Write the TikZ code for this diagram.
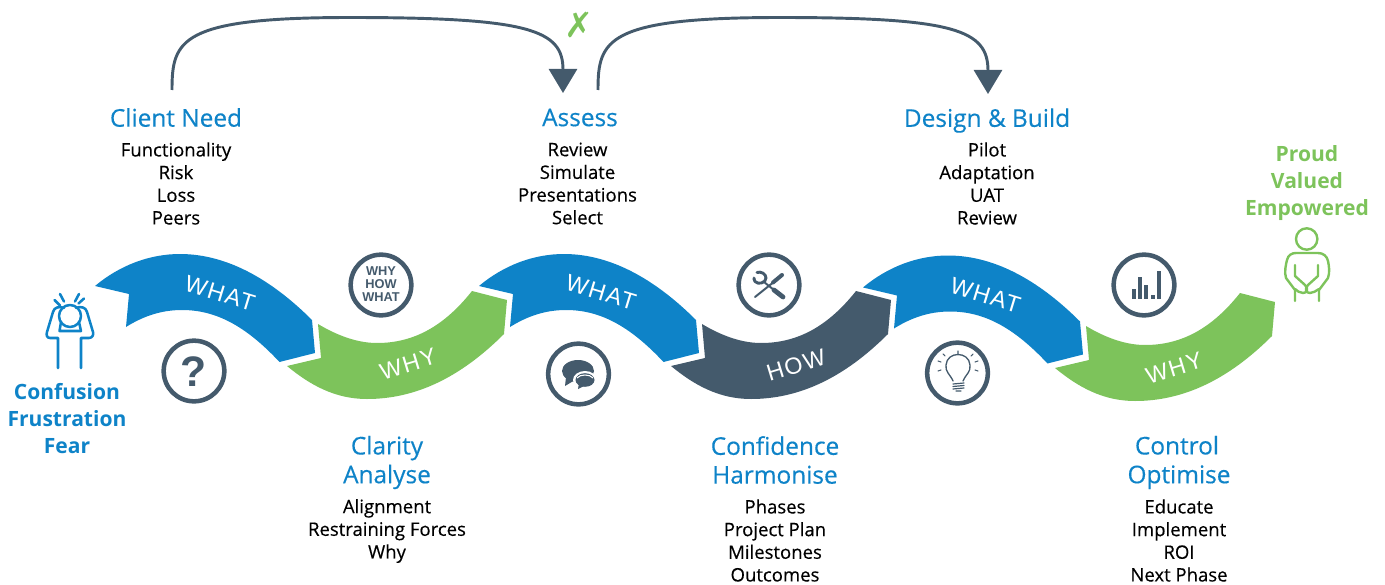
\documentclass[tikz,border=0pt]{standalone}
\usepackage{fontspec}
\usetikzlibrary{arrows.meta}
\setmainfont{Open Sans}
\newfontfamily\medf[FakeBold=0.35]{Open Sans}
\newfontfamily\arialf{Liberation Sans}
\newfontfamily\dejavuf{DejaVu Sans}
\definecolor{cblue}{HTML}{0E83C8}
\definecolor{cgreen}{HTML}{7DC35B}
\definecolor{cslate}{HTML}{445A6C}
\tikzset{
  head/.style={font=\medf\fontsize{18.3}{21.6}\selectfont,text=cblue,align=center,inner sep=0pt},
  body/.style={font=\medf\fontsize{13.9}{17}\selectfont,text=black,align=center,inner sep=0pt},
  mood/.style={font=\fontsize{15.8}{20.2}\selectfont\bfseries,align=center,inner sep=0pt},
  band/.style={font=\arialf\fontsize{17.5}{18}\selectfont\addfontfeatures{LetterSpace=7},text=white,inner sep=0pt},
  badge/.style={circle,draw=cslate,line width=3.4pt,minimum size=45.5pt,inner sep=0pt},
  flow/.style={draw=cslate,line width=2.2pt,-{Triangle[width=21pt,length=18pt]}},
  icon/.style={draw=#1,line width=1.9pt,line cap=round,line join=round},
  thin icon/.style={draw=cslate,line width=1pt,line cap=round,line join=round}
}
\newcommand{\ribdown}[3]{\fill[#1,shift={(#2,#3)}] (95,286) .. controls (120,265) and (150,254) .. (180,254)
  .. controls (230,254) and (275,283) .. (312,320) -- (315,353) -- (279.5,362)
  .. controls (245,325) and (215,310) .. (182,310) .. controls (160,310) and (142,317) .. (126,327)
  -- (129,294) -- cycle;}
\newcommand{\ribup}[3]{\fill[#1,shift={(#2,#3)}] (318,324) .. controls (338,336) and (358,343) .. (377,343)
  .. controls (415,343) and (445,325) .. (472,291) -- (507,300) -- (504,334)
  .. controls (460,378) and (415,399) .. (367,399) .. controls (335,399) and (310,385) .. (287,366)
  -- (321,358) -- cycle;}
\begin{document}
\begin{tikzpicture}[x=0.75pt,y=-0.75pt]
\useasboundingbox (0,0) rectangle (1385,585);
% ribbons
\ribdown{cblue}{0}{0}
\ribup{cgreen}{0}{0}
\ribdown{cblue}{384}{0}
\ribup{cslate}{384}{0}
\ribdown{cblue}{768}{1.5}
\ribup{cgreen}{768}{2}
\node[band,rotate=-17] (w1) at (220,293) {WHAT};
\node[band,rotate=-17] (w2) at (601,292) {WHAT};
\node[band,rotate=-17] (w3) at (985.5,295) {WHAT};
\node[band,rotate=17] (y1) at (408,364) {WHY};
\node[band,rotate=17] (h1) at (796,365) {HOW};
\node[band,rotate=17] (y2) at (1174,368) {WHY};
% headings and lists
\node[head] (need) at (176,117.5) {Client Need};
\node[body] (needl) at (176,183.5) {Functionality\\Risk\\Loss\\Peers};
\node[head] (assess) at (580,117.5) {Assess};
\node[body] (assessl) at (577.5,183.5) {Review\\Simulate\\Presentations\\Select};
\node[head] (design) at (987,120.5) {Design \& Build};
\node[body] (designl) at (987,183.5) {Pilot\\Adaptation\\UAT\\Review};
\node[head] (clarity) at (387,462.5) {Clarity\\Analyse};
\node[body] (clarityl) at (387,531) {Alignment\\Restraining Forces\\Why};
\node[head] (conf) at (775,460) {Confidence\\Harmonise};
\node[body] (confl) at (775,540.5) {Phases\\Project Plan\\Milestones\\Outcomes};
\node[head] (ctrl) at (1179,462.5) {Control\hspace*{3pt}\\Optimise};
\node[body] (ctrll) at (1179,540.5) {Educate\\Implement\\ROI\\Next Phase};
\node[mood,text=cblue] (bad) at (67,418.5) {Confusion\\Frustration\\Fear};
\node[mood,text=cgreen] (good) at (1307,183) {Proud\\Valued\\Empowered};
% connectors
\coordinate (s1) at (172,90);
\coordinate (e1) at (563,93);
\coordinate (s2) at (598,90);
\coordinate (e2) at (988,94);
\draw[flow] (s1) .. controls (172,40) and (180,17.5) .. (350,17.5) .. controls (530,17.5) and (563,30) .. (e1);
\draw[flow] (s2) .. controls (598,40) and (606,17.5) .. (780,17.5) .. controls (955,17.5) and (988,30) .. (e2);
\node[font=\dejavuf\bfseries\fontsize{26}{26}\selectfont,text=cgreen,inner sep=0pt] (cross) at (579,25) {✗};
% badges
\node[badge] (q) at (194,371) {};
\node[font=\arialf\bfseries\fontsize{32}{32}\selectfont,text=cslate,inner sep=0pt] (qm) at (194,372) {?};
\node[badge] (whw) at (381,285) {};
\node[font=\arialf\bfseries\fontsize{9.6}{10}\selectfont,text=cslate,align=center,inner sep=0pt] (whwt) at (381,284) {WHY\\HOW\\WHAT};
\node[badge] (talk) at (578.5,374) {};
\node[badge] (tools) at (769,285) {};
\node[badge] (idea) at (957.5,373) {};
\node[badge] (chart) at (1144,285) {};
% speech icon
\fill[cslate] (578,371) ellipse [x radius=16,y radius=11];
\fill[cslate] (566,377) -- (565,386) -- (575,380) -- cycle;
\fill[white] (585,380) ellipse [x radius=12,y radius=9];
\fill[cslate] (585,380) ellipse [x radius=9.5,y radius=6.8];
\fill[cslate] (579,383) -- (578,389) -- (586,385) -- cycle;
\draw[white,line width=.8pt] (577,378) .. controls (580,374) and (590,374) .. (593,378);
% tools icon
\draw[icon=cslate,line width=1.5pt] (755,297) -- (775,281);
\draw[icon=cslate,line width=3pt] (773,282.5) -- (782,275);
\draw[icon=cslate,line width=1.5pt] (764,282) -- (774,290);
\draw[icon=cslate,line width=3.6pt] (774,290) -- (783,297);
\draw[icon=cslate,line width=2.2pt] (757,272.5) .. controls (761,271) and (766,274) .. (766,278) .. controls (766,283) and (758,285) .. (755,281.5) .. controls (754,280) and (754,278.5) .. (754,278);
% chart icon
\fill[cslate] (1131.5,289) rectangle (1135.5,299);
\fill[cslate] (1138,277) rectangle (1142,299);
\fill[cslate] (1144,285) rectangle (1148,299);
\fill[cslate] (1150.5,295) rectangle (1154.5,299);
\fill[cslate] (1156.5,271) rectangle (1160.5,299);
% bulb icon
\draw[thin icon] (953,381) .. controls (950,374) and (945,372) .. (946,365) .. controls (947,351) and (969,351) .. (970,365) .. controls (971,372) and (966,374) .. (963,381);
\draw[thin icon,line width=.9pt] (953,384) -- (964,383) (953,386.5) -- (964,385.5) (953,389) -- (964,388) (956,391) -- (961,391);
\draw[thin icon,line width=.8pt] (958,351) -- (958,354) (943,354) -- (945,356) (973,354) -- (971,356) (938,361) -- (941,362) (978,361) -- (975,362) (938,371) -- (941,370) (978,371) -- (975,370);
% worried person
\draw[icon=cblue] (58,368) -- (58,338) -- (50,338) .. controls (47,338) and (46,335) .. (47,332) -- (53,312) .. controls (54,307) and (60,306) .. (64,308);
\draw[icon=cblue] (81,368) -- (81,338) -- (89,338) .. controls (92,338) and (94,335) .. (93,332) -- (87,312) .. controls (86,307) and (80,306) .. (76,308);
\draw[icon=cblue] (70,316) circle [radius=11];
\draw[icon=cblue] (61,322) -- (59.5,331) -- (81,331) -- (79,322);
\draw[icon=cblue] (54.5,300) -- (60,305.5) (60,294) -- (64,301.5) (79,294) -- (75,301.5) (84,298.5) -- (78.5,303.5);
% calm person
\draw[icon=cgreen,line width=1.8pt] (1306.7,239) circle [radius=10.7];
\draw[icon=cgreen,line width=1.8pt] (1295,301) -- (1295,290) -- (1286,278) .. controls (1284,272) and (1286,264) .. (1287,260) .. controls (1288,255) and (1292,253) .. (1296,253) -- (1318,253) .. controls (1323,253) and (1327,256) .. (1328,261) .. controls (1329,266) and (1330,272) .. (1328,278) -- (1319,290) -- (1319,301);
\draw[icon=cgreen,line width=1.8pt] (1295,265) -- (1295,276) -- (1305,285) .. controls (1309,289) and (1307,293) .. (1303,293) .. controls (1300,293) and (1297,291) .. (1295,289);
\draw[icon=cgreen,line width=1.8pt] (1318,265) -- (1318,276) -- (1308,285) .. controls (1304,289) and (1306,293) .. (1310,293) .. controls (1313,293) and (1316,291) .. (1319,289);
\end{tikzpicture}
\end{document}
